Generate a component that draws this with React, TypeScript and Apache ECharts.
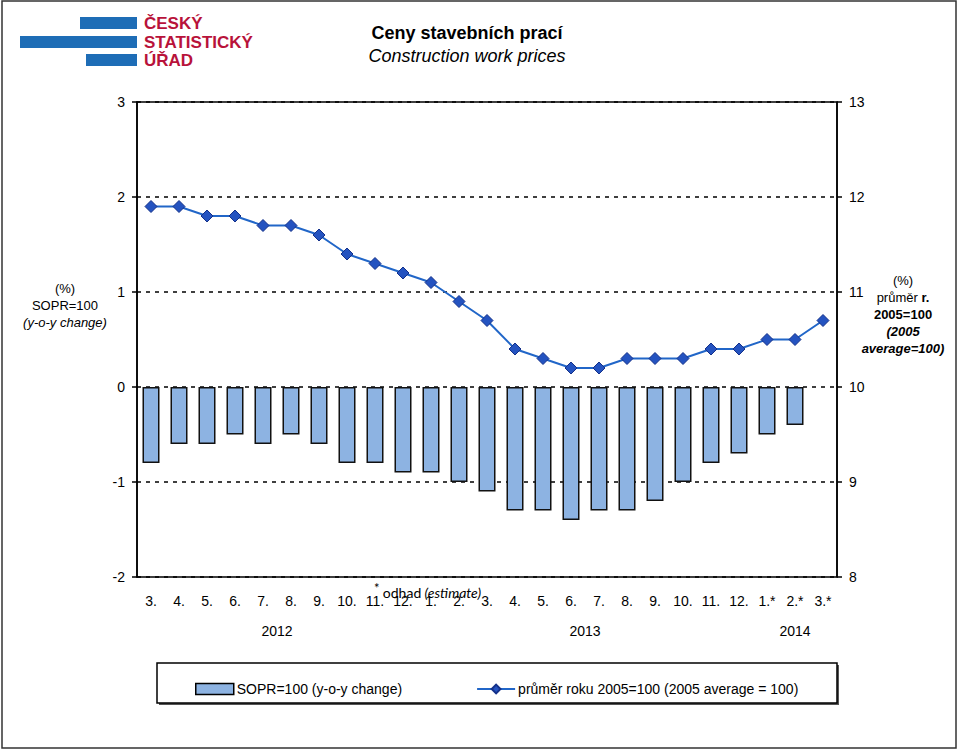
import React, { useEffect, useRef } from "react";
import * as echarts from "echarts";

const categories = ["3.", "4.", "5.", "6.", "7.", "8.", "9.", "10.", "11.", "12.", "1.", "2.", "3.", "4.", "5.", "6.", "7.", "8.", "9.", "10.", "11.", "12.", "1.*", "2.*", "3.*"];
const yoyChange = [-0.8, -0.6, -0.6, -0.5, -0.6, -0.5, -0.6, -0.8, -0.8, -0.9, -0.9, -1.0, -1.1, -1.3, -1.3, -1.4, -1.3, -1.3, -1.2, -1.0, -0.8, -0.7, -0.5, -0.4, null];
const avgIndex = [11.9, 11.9, 11.8, 11.8, 11.7, 11.7, 11.6, 11.4, 11.3, 11.2, 11.1, 10.9, 10.7, 10.4, 10.3, 10.2, 10.2, 10.3, 10.3, 10.3, 10.4, 10.4, 10.5, 10.5, 10.7];
const years = ["2012", "2013", "2014"];
const seriesNames = ["SOPR=100 (y-o-y change)", "průměr roku 2005=100 (2005 average = 100)"];

const FONT = "Liberation Sans, Arial, sans-serif";

export default function App() {
  const ref = useRef<HTMLDivElement>(null);
  useEffect(() => {
    document.body.style.margin = "0";
    const chart = echarts.init(ref.current!, null, { renderer: "svg" });
    const option: any = {
      animation: false,
      backgroundColor: "#ffffff",
      textStyle: { fontFamily: FONT },
      grid: {
        left: 137, right: 122, top: 102, bottom: 173,
        show: true, borderColor: "#000", borderWidth: 1.5, backgroundColor: "transparent",
      },
      legend: {
        left: 190, top: 677, itemWidth: 38, itemHeight: 11, itemGap: 74,
        textStyle: { fontFamily: FONT, fontSize: 14, color: "#000", padding: [0, 0, 0, -2] },
        data: [
          { name: seriesNames[0], icon: "rect", itemStyle: { color: "#8db3e2", borderColor: "#000", borderWidth: 1.5 } },
          { name: seriesNames[1] },
        ],
      },
      xAxis: {
        type: "category", data: categories,
        axisLine: { show: false }, axisTick: { show: false },
        axisLabel: { margin: 17, fontSize: 14, color: "#000", fontFamily: FONT, interval: 0 },
      },
      yAxis: [
        {
          type: "value", min: -2, max: 3, interval: 1,
          axisLine: { show: true, lineStyle: { color: "#000", width: 1.5 } },
          axisTick: { show: true, length: 5, lineStyle: { color: "#000", width: 1.5 } },
          axisLabel: { margin: 12, fontSize: 14, color: "#000", fontFamily: FONT },
          splitLine: { show: true, lineStyle: { color: "#000", width: 1.5, type: [4, 5] } },
        },
        {
          type: "value", min: 8, max: 13, interval: 1, position: "right",
          axisLine: { show: true, lineStyle: { color: "#000", width: 1.5 } },
          axisTick: { show: true, length: 5, lineStyle: { color: "#000", width: 1.5 } },
          axisLabel: { margin: 12, fontSize: 14, color: "#000", fontFamily: FONT },
          splitLine: { show: false },
        },
      ],
      series: [
        {
          name: seriesNames[0], type: "bar", yAxisIndex: 0, data: yoyChange, barWidth: 17,
          itemStyle: { color: "#8db3e2", borderColor: "#111", borderWidth: 1.5 },
        },
        {
          name: seriesNames[1], type: "line", yAxisIndex: 1, data: avgIndex,
          symbol: "diamond", symbolSize: 12,
          lineStyle: { color: "#2166c8", width: 2 },
          itemStyle: { color: "#2453c0", borderColor: "#14318a", borderWidth: 1 },
        },
      ],
      graphic: [
        { type: "rect", shape: { x: 2, y: 1, width: 954, height: 747 }, style: { fill: "none", stroke: "#333", lineWidth: 1.5 }, silent: true },
        // logo
        { type: "rect", shape: { x: 80, y: 17, width: 57, height: 12 }, style: { fill: "#1e6db6" } },
        { type: "rect", shape: { x: 20, y: 36, width: 117, height: 12 }, style: { fill: "#1e6db6" } },
        { type: "rect", shape: { x: 86, y: 54, width: 51, height: 12 }, style: { fill: "#1e6db6" } },
        { type: "text", x: 144, y: 23, style: { text: "ČESKÝ", fill: "#b8123a", font: "bold 17px " + FONT, verticalAlign: "middle" } },
        { type: "text", x: 144, y: 42, style: { text: "STATISTICKÝ", fill: "#b8123a", font: "bold 17px " + FONT, verticalAlign: "middle" } },
        { type: "text", x: 144, y: 60, style: { text: "ÚŘAD", fill: "#b8123a", font: "bold 17px " + FONT, verticalAlign: "middle" } },
        // titles
        { type: "text", x: 467, y: 33, style: { text: "Ceny stavebních prací", fill: "#000", font: "bold 18px " + FONT, align: "center", verticalAlign: "middle" } },
        { type: "text", x: 467, y: 56, style: { text: "Construction work prices", fill: "#000", font: "italic 18px " + FONT, align: "center", verticalAlign: "middle" } },
        // left axis title
        {
          type: "text", x: 65, y: 305,
          style: {
            text: "{a|(%)}\n{a|SOPR=100}\n{b|(y-o-y change)}", align: "center", verticalAlign: "middle",
            rich: {
              a: { fontFamily: FONT, fontSize: 13, lineHeight: 17, fill: "#000", align: "center" },
              b: { fontFamily: FONT, fontSize: 13, fontStyle: "italic", lineHeight: 17, fill: "#000", align: "center" },
            },
          },
        },
        // right axis title
        {
          type: "text", x: 903, y: 314,
          style: {
            text: "{a|(%)}\n{a|průměr }{c|r.}\n{c|2005=100}\n{b|(2005}\n{b|average=100)}", align: "center", verticalAlign: "middle",
            rich: {
              a: { fontFamily: FONT, fontSize: 13, lineHeight: 17, fill: "#000" },
              c: { fontFamily: FONT, fontSize: 13, fontWeight: "bold", lineHeight: 17, fill: "#000" },
              b: { fontFamily: FONT, fontSize: 13, fontStyle: "italic", fontWeight: "bold", lineHeight: 17, fill: "#000" },
            },
          },
        },
        // estimate note
        {
          type: "text", x: 374, y: 592,
          style: {
            text: "{s|*} {a|odhad} {b|(estimate)}", verticalAlign: "middle",
            rich: {
              s: { fontFamily: "Lato, sans-serif", fontSize: 13, fill: "#000", verticalAlign: "top", padding: [0, 0, 8, 0] },
              a: { fontFamily: "Lato, sans-serif", fontSize: 14, fill: "#000" },
              b: { fontFamily: "Lato, sans-serif", fontSize: 14, fontStyle: "italic", fill: "#000" },
            },
          },
        },
        // years
        { type: "text", x: 277, y: 631, style: { text: years[0], fill: "#000", font: "14px " + FONT, align: "center", verticalAlign: "middle" } },
        { type: "text", x: 585, y: 631, style: { text: years[1], fill: "#000", font: "14px " + FONT, align: "center", verticalAlign: "middle" } },
        { type: "text", x: 795, y: 631, style: { text: years[2], fill: "#000", font: "14px " + FONT, align: "center", verticalAlign: "middle" } },
        // legend frame
        { type: "rect", z: -1, shape: { x: 159, y: 665, width: 680, height: 40 }, style: { fill: "#555", stroke: "none" }, silent: true },
        { type: "rect", z: -1, shape: { x: 157, y: 663, width: 680, height: 40 }, style: { fill: "#fff", stroke: "#000", lineWidth: 1.5 }, silent: true },
      ],
    };
    chart.setOption(option);
    return () => chart.dispose();
  }, []);
  return <div ref={ref} style={{ width: 959, height: 750 }} />;
}
